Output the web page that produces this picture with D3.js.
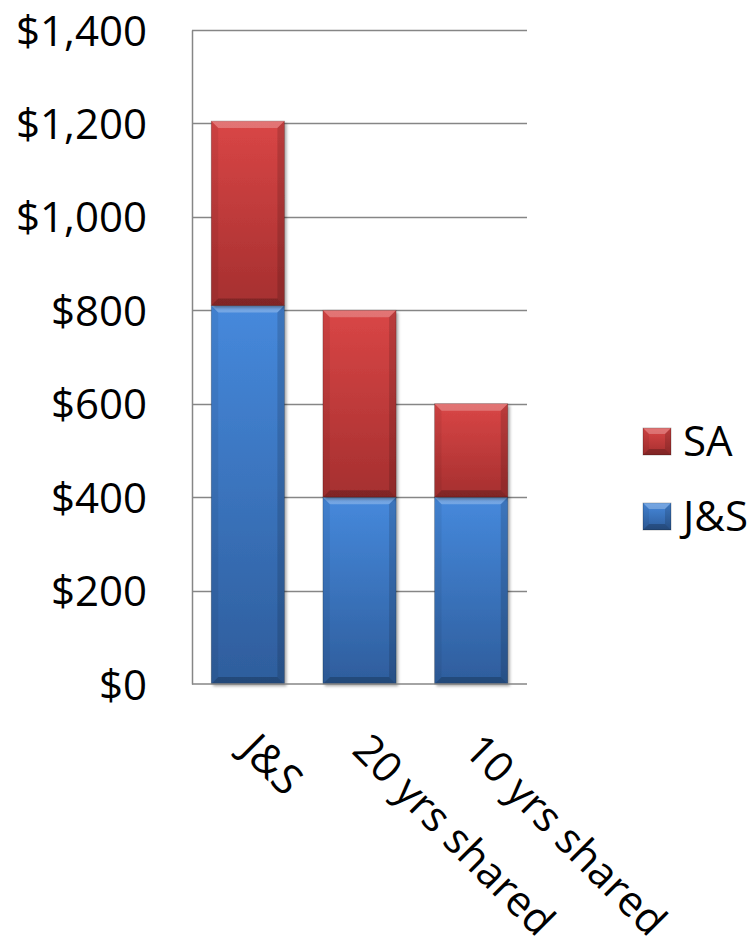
<!DOCTYPE html>
<html>
<head>
<meta charset="utf-8">
<script src="https://cdn.jsdelivr.net/npm/d3@7"></script>
<style>
  html, body { margin: 0; padding: 0; background: #fff; }
  svg { display: block; }
  text { font-family: "Open Sans", "Noto Sans", sans-serif; fill: #000; }
</style>
</head>
<body>
<svg id="chart" width="753" height="940"></svg>
<script>
const categories = ["J&S", "20 yrs shared", "10 yrs shared"];
const seriesNames = ["J&S", "SA"];
const jsValues = [810, 400, 400];
const saValues = [395, 400, 200];
const yTicks = [0, 200, 400, 600, 800, 1000, 1200, 1400];
const legendItems = ["SA", "J&S"];

const svg = d3.select("#chart");
const W = 753, H = 940;
const m = { left: 192, top: 30, right: 226, bottom: 256 };
const pw = W - m.left - m.right;   // 335
const ph = H - m.top - m.bottom;   // 654

const x = d3.scaleBand().domain(categories).range([m.left, m.left + pw]).paddingInner(0.345).paddingOuter(0.1725);
const y = d3.scaleLinear().domain([0, 1400]).range([m.top + ph, m.top]);

const colors = {
  "J&S": { top: "#4689dc", bot: "#2e5d9c" },
  "SA":  { top: "#d94646", bot: "#a52f2f" }
};

const defs = svg.append("defs");
Object.keys(colors).forEach((k, i) => {
  const g = defs.append("linearGradient").attr("id", "grad" + i)
    .attr("x1", 0).attr("y1", 0).attr("x2", 0).attr("y2", 1);
  g.append("stop").attr("offset", "0%").attr("stop-color", colors[k].top);
  g.append("stop").attr("offset", "100%").attr("stop-color", colors[k].bot);
});
const f = defs.append("filter").attr("id", "shadow").attr("x", "-20%").attr("y", "-5%").attr("width", "140%").attr("height", "115%");
f.append("feDropShadow").attr("dx", 2).attr("dy", 2).attr("stdDeviation", 1.5).attr("flood-color", "#000").attr("flood-opacity", 0.35);

// gridlines
svg.append("g").selectAll("line").data(yTicks.filter(d => d > 0)).join("line")
  .attr("x1", m.left).attr("x2", m.left + pw)
  .attr("y1", d => Math.round(y(d)) + 0.5).attr("y2", d => Math.round(y(d)) + 0.5)
  .attr("stroke", "#868686").attr("stroke-width", 1.5);

// y axis
const yAxis = d3.axisLeft(y).tickValues(yTicks).tickSize(0).tickPadding(0)
  .tickFormat(d => "$" + d3.format(",")(d));
const ya = svg.append("g").attr("transform", `translate(${m.left},0)`).call(yAxis);
ya.select(".domain").attr("stroke", "#868686").attr("stroke-width", 1.5);
ya.selectAll("text").attr("x", 147 - m.left).attr("dy", "0.36em")
  .style("font-size", "42px").style("font-family", '"Open Sans", sans-serif').attr("fill", "#000");

// stacked bars
const stackData = categories.map((c, i) => ({ cat: c, "J&S": jsValues[i], "SA": saValues[i] }));
const stacked = d3.stack().keys(seriesNames)(stackData);

function bevel(g, xx, yy, w, h, b) {
  b = Math.min(b, h / 2, w / 2);
  g.append("polygon").attr("points", [[xx, yy], [xx + w, yy], [xx + w - b, yy + b], [xx + b, yy + b]].join(" "))
    .attr("fill", "#fff").attr("fill-opacity", 0.25);
  g.append("polygon").attr("points", [[xx, yy + h], [xx + w, yy + h], [xx + w - b, yy + h - b], [xx + b, yy + h - b]].join(" "))
    .attr("fill", "#000").attr("fill-opacity", 0.22);
  g.append("polygon").attr("points", [[xx, yy], [xx + b, yy + b], [xx + b, yy + h - b], [xx, yy + h]].join(" "))
    .attr("fill", "#000").attr("fill-opacity", 0.06);
  g.append("polygon").attr("points", [[xx + w, yy], [xx + w - b, yy + b], [xx + w - b, yy + h - b], [xx + w, yy + h]].join(" "))
    .attr("fill", "#000").attr("fill-opacity", 0.14);
}

const barsG = svg.append("g");
stacked.forEach((layer, li) => {
  layer.forEach((d, i) => {
    const xx = x(categories[i]), w = x.bandwidth();
    const y0 = y(d[1]), h = y(d[0]) - y(d[1]);
    const g = barsG.append("g");
    g.append("rect").attr("x", xx).attr("y", y0).attr("width", w).attr("height", h)
      .attr("fill", `url(#grad${li})`).attr("filter", "url(#shadow)")
      .attr("stroke", "#000").attr("stroke-opacity", 0.25).attr("stroke-width", 0.8);
    bevel(g, xx, y0, w, h, 7);
  });
});

// x axis line
svg.append("line").attr("x1", m.left).attr("x2", m.left + pw)
  .attr("y1", y(0)).attr("y2", y(0)).attr("stroke", "#868686").attr("stroke-width", 1.5);

// x labels
svg.append("g").selectAll("text").data(categories).join("text")
  .attr("transform", d => `translate(${x(d) + x.bandwidth() / 2 - 9},752) rotate(45)`)
  .attr("text-anchor", "start")
  .style("font-size", "42px")
  .text(d => d);

// legend
const lg = svg.append("g");
legendItems.forEach((name, i) => {
  const yy = 428 + i * 75;
  const r = lg.append("g");
  r.append("rect").attr("x", 643).attr("y", yy).attr("width", 28).attr("height", 27)
    .attr("fill", `url(#grad${seriesNames.indexOf(name)})`)
    .attr("stroke", "#000").attr("stroke-opacity", 0.3).attr("stroke-width", 0.8);
  bevel(r, 643, yy, 28, 27, 6);
  lg.append("text").attr("x", 683).attr("y", yy + 28).style("font-size", "42px").text(name);
});
</script>
</body>
</html>
